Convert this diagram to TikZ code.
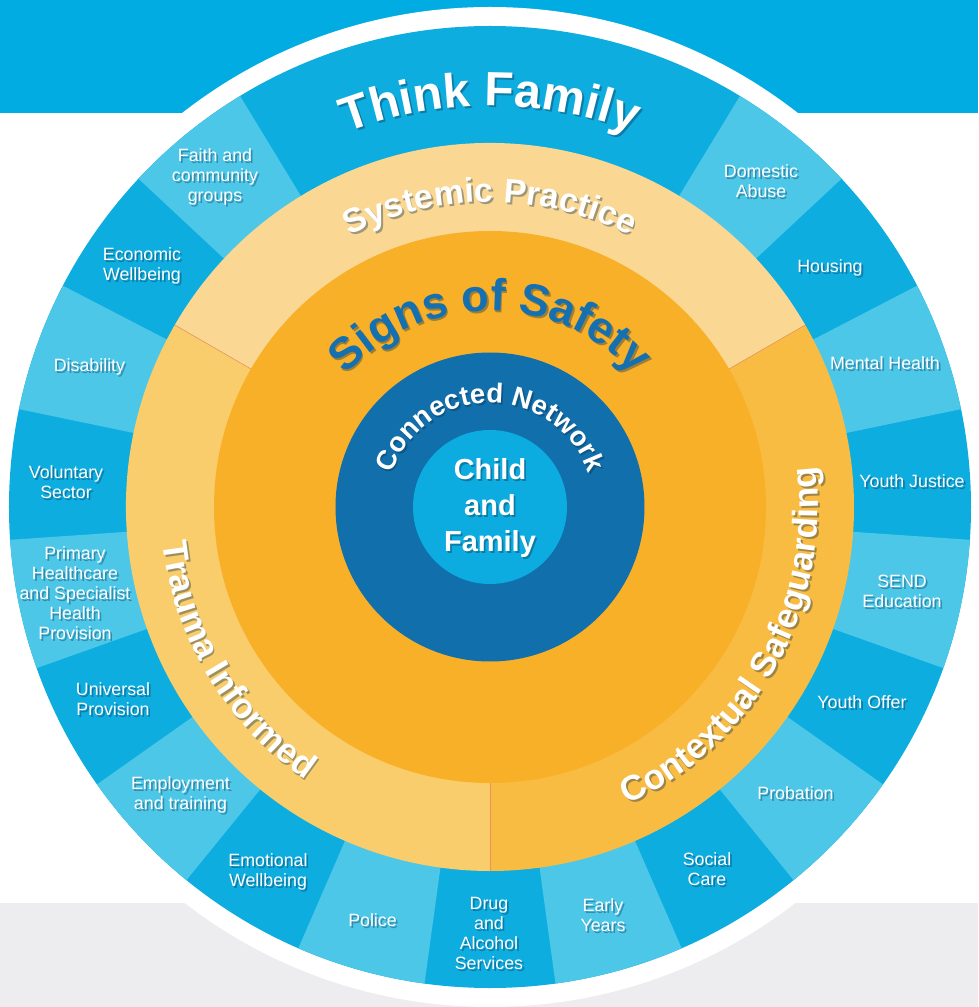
\documentclass[tikz,border=0pt]{standalone}
\usepackage{fontspec}
\setmainfont{Liberation Sans}
\usetikzlibrary{decorations.text}
\definecolor{bandblue}{RGB}{0,172,226}
\definecolor{segdark}{RGB}{14,173,224}
\definecolor{seglight}{RGB}{77,199,232}
\definecolor{greyband}{RGB}{237,237,239}
\definecolor{sysyellow}{RGB}{250,215,146}
\definecolor{trauyellow}{RGB}{249,205,107}
\definecolor{ctxyellow}{RGB}{249,188,66}
\definecolor{sosorange}{RGB}{248,176,41}
\definecolor{netblue}{RGB}{17,112,172}
\definecolor{childblue}{RGB}{13,172,224}
\definecolor{sostext}{RGB}{20,112,176}
\definecolor{shadowc}{RGB}{10,45,75}
\definecolor{divline}{RGB}{232,150,90}
\newcommand\arctxt[6]{\path[decorate,decoration={text along path,text align=center,text color=#1,text={|#2|#6}}] (#4:#3) arc[start angle=#4,end angle=#5,radius=#3];}
\newcommand\shadarctxt[6]{%
  \begin{scope}[shift={(1.8pt,-2pt)},opacity=0.38]\arctxt{shadowc}{#2}{#3}{#4}{#5}{#6}\end{scope}
  \arctxt{#1}{#2}{#3}{#4}{#5}{#6}}
\tikzset{
  seglab/.style={font=\fontsize{17.8}{20}\selectfont, text=white, align=center, inner sep=0pt},
  shadone/.style={seglab, text=shadowc, text opacity=0.38, xshift=1.8pt, yshift=-2pt},
  centrelab/.style={font=\bfseries\fontsize{29}{36}\selectfont, text=white, align=center, inner sep=0pt},
}
\newcommand\seg[4]{%
  \node[shadone] (#1-s) at (#2pt,#3pt) {#4};
  \node[seglab] (#1) at (#2pt,#3pt) {#4};}
\begin{document}
\begin{tikzpicture}
\useasboundingbox (-490pt,-500pt) rectangle (488pt,507pt);
\fill[white] (-490pt,-500pt) rectangle (488pt,507pt);
\fill[bandblue] (-490pt,394pt) rectangle (488pt,507pt);
\fill[greyband] (-490pt,-500pt) rectangle (488pt,-396pt);
\fill[white] (0,0) circle[radius=500pt];
% outer ring
\fill[segdark] (0,0) circle[radius=481pt];
\foreach \k in {1,3,...,19}{
  \pgfmathsetmacro\ua{58.6957-(\k-1)*15.65217}
  \pgfmathsetmacro\la{58.6957-\k*15.65217}
  \fill[seglight] (0,0) -- (\ua:481pt) arc[start angle=\ua,end angle=\la,radius=481pt] -- cycle;
}
% yellow ring
\fill[sysyellow] (0,0) -- (30:364pt) arc[start angle=30,end angle=150,radius=364pt] -- cycle;
\fill[trauyellow] (0,0) -- (150:364pt) arc[start angle=150,end angle=270,radius=364pt] -- cycle;
\fill[ctxyellow] (0,0) -- (270:364pt) arc[start angle=270,end angle=390,radius=364pt] -- cycle;
\draw[divline, line width=0.6pt] (30:276pt) -- (30:364pt);
\draw[divline, line width=0.6pt] (150:276pt) -- (150:364pt);
\draw[divline, line width=0.6pt] (270:276pt) -- (270:364pt);
\fill[sosorange] (0,0) circle[radius=276pt];
\fill[netblue] (0,0) circle[radius=154.5pt];
\fill[childblue] (0,0) circle[radius=77pt];
% curved texts
\shadarctxt{white}{\bfseries\fontsize{48}{48}\selectfont}{401pt}{180}{0}{Think Family}
\shadarctxt{white}{\bfseries\fontsize{34}{34}\selectfont}{305pt}{180}{0}{Systemic Practice}
\shadarctxt{sostext}{\bfseries\fontsize{45}{45}\selectfont}{196pt}{180}{0}{Signs of Safety}
\shadarctxt{white}{\bfseries\fontsize{27.5}{27.5}\selectfont}{104pt}{180}{0}{Connected Network}
\shadarctxt{white}{\bfseries\fontsize{35}{35}\selectfont}{329pt}{121}{301}{Trauma Informed}
\shadarctxt{white}{\bfseries\fontsize{35}{35}\selectfont}{328pt}{-119}{61}{Contextual Safeguarding}
% centre
\node[centrelab, text=shadowc, text opacity=0.38, xshift=1.8pt, yshift=-2pt] (child-s) at (0pt,-1.5pt) {Child\\and\\Family};
\node[centrelab] (child) at (0pt,-1.5pt) {Child\\and\\Family};
% segment labels
\seg{faith}{-275}{330}{Faith and\\community\\groups}
\seg{econ}{-348}{241}{Economic\\Wellbeing}
\seg{disab}{-400.5}{140}{Disability}
\seg{vol}{-424}{25}{Voluntary\\Sector}
\seg{prim}{-415}{-86}{Primary\\Healthcare\\and Specialist\\Health\\Provision}
\seg{univ}{-377}{-192}{Universal\\Provision}
\seg{empl}{-309.5}{-288}{Employment\\and training}
\seg{emot}{-222}{-365}{Emotional\\Wellbeing}
\seg{police}{-117.5}{-413}{Police}
\seg{drug}{-1}{-426}{Drug\\and\\Alcohol\\Services}
\seg{early}{113}{-408.5}{Early\\Years}
\seg{social}{217}{-362}{Social\\Care}
\seg{prob}{305.5}{-285.7}{Probation}
\seg{yoffer}{372}{-195}{Youth Offer}
\seg{send}{412}{-84}{SEND\\Education}
\seg{yjust}{422}{26}{Youth Justice}
\seg{mental}{395}{144}{Mental Health}
\seg{housing}{340}{239}{Housing}
\seg{domestic}{271}{326}{Domestic\\Abuse}
\end{tikzpicture}
\end{document}
